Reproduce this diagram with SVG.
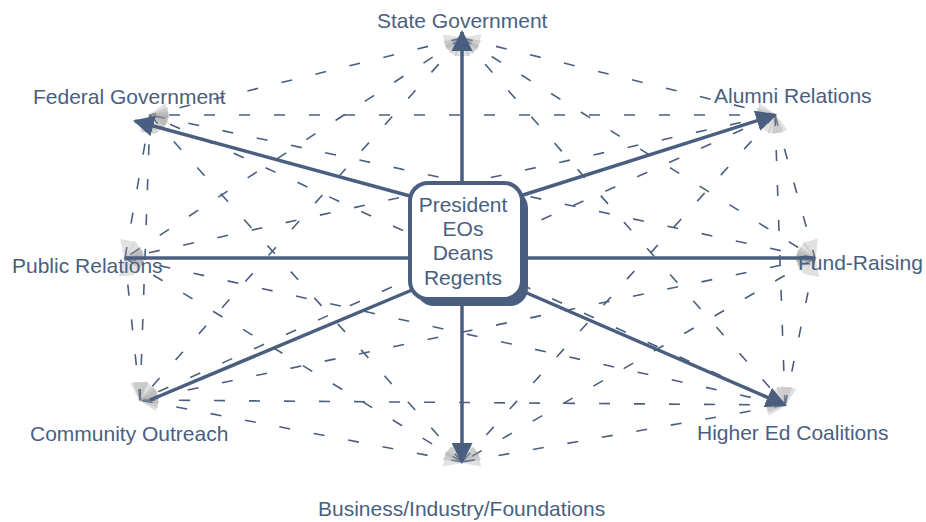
<svg xmlns="http://www.w3.org/2000/svg" width="926" height="522" viewBox="0 0 926 522">
<style>
.lbl{font-family:"Liberation Sans",Arial,sans-serif;font-size:21px;fill:#4a5f80}
.ctr{font-family:"Liberation Sans",Arial,sans-serif;font-size:21px;fill:#4a5f80;text-anchor:middle}
.main{stroke:#4a5f80;stroke-width:3.5;fill:none}
.dash{stroke:#4a5f80;stroke-width:1.6;fill:none;stroke-dasharray:11 24;marker-start:url(#g);marker-end:url(#g)}
</style>
<defs>
<marker id="a" viewBox="0 0 10 10" refX="9" refY="5" markerWidth="6" markerHeight="6" orient="auto-start-reverse" markerUnits="strokeWidth">
<path d="M0,0 L10,5 L0,10 Z" fill="#4a5f80"/>
</marker>
<marker id="g" viewBox="0 0 10 10" refX="9" refY="5" markerWidth="20" markerHeight="20" orient="auto-start-reverse" markerUnits="userSpaceOnUse">
<path d="M0,1 L10,5 L0,9 Z" fill="#9a9a9a" fill-opacity="0.3"/>
</marker>
</defs>
<rect width="926" height="522" fill="#ffffff"/>
<g id="connectors">
<g id="dashed">
<line class="dash" x1="462" y1="38" x2="775" y2="115"/>
<line class="dash" x1="462" y1="38" x2="815" y2="258"/>
<line class="dash" x1="462" y1="38" x2="785" y2="405"/>
<line class="dash" x1="462" y1="38" x2="462" y2="462"/>
<line class="dash" x1="462" y1="38" x2="140" y2="400"/>
<line class="dash" x1="462" y1="38" x2="125" y2="258"/>
<line class="dash" x1="462" y1="38" x2="150" y2="115"/>
<line class="dash" x1="775" y1="115" x2="815" y2="258"/>
<line class="dash" x1="775" y1="115" x2="785" y2="405"/>
<line class="dash" x1="775" y1="115" x2="462" y2="462"/>
<line class="dash" x1="775" y1="115" x2="140" y2="400"/>
<line class="dash" x1="775" y1="115" x2="125" y2="258"/>
<line class="dash" x1="775" y1="115" x2="150" y2="115"/>
<line class="dash" x1="815" y1="258" x2="785" y2="405"/>
<line class="dash" x1="815" y1="258" x2="462" y2="462"/>
<line class="dash" x1="815" y1="258" x2="140" y2="400"/>
<line class="dash" x1="815" y1="258" x2="125" y2="258"/>
<line class="dash" x1="815" y1="258" x2="150" y2="115"/>
<line class="dash" x1="785" y1="405" x2="462" y2="462"/>
<line class="dash" x1="785" y1="405" x2="140" y2="400"/>
<line class="dash" x1="785" y1="405" x2="125" y2="258"/>
<line class="dash" x1="785" y1="405" x2="150" y2="115"/>
<line class="dash" x1="462" y1="462" x2="140" y2="400"/>
<line class="dash" x1="462" y1="462" x2="125" y2="258"/>
<line class="dash" x1="462" y1="462" x2="150" y2="115"/>
<line class="dash" x1="140" y1="400" x2="125" y2="258"/>
<line class="dash" x1="140" y1="400" x2="150" y2="115"/>
<line class="dash" x1="125" y1="258" x2="150" y2="115"/>
</g>
<g id="main">
<line class="main" x1="462" y1="185" x2="462" y2="32" marker-end="url(#a)"/>
<line class="main" x1="462" y1="300" x2="462" y2="462" marker-end="url(#a)"/>
<line class="main" x1="410" y1="258" x2="125" y2="258"/>
<line class="main" x1="522" y1="258" x2="815" y2="258"/>
<line class="main" x1="410" y1="196" x2="135" y2="121" marker-end="url(#a)"/>
<line class="main" x1="520" y1="196" x2="775" y2="115" marker-end="url(#a)"/>
<line class="main" x1="412" y1="290" x2="150" y2="400"/>
<line class="main" x1="520" y1="290" x2="785" y2="405" marker-end="url(#a)"/>
</g>
</g>
<g id="center">
<rect x="416" y="190" width="112" height="116" rx="18" fill="#4a5f80"/>
<rect x="410" y="183" width="112" height="116" rx="18" fill="#ffffff" stroke="#4a5f80" stroke-width="4"/>
<text class="ctr" x="463" y="212">President</text>
<text class="ctr" x="463" y="236">EOs</text>
<text class="ctr" x="463" y="260">Deans</text>
<text class="ctr" x="463" y="285">Regents</text>
</g>
<g id="state"><text class="lbl" x="377" y="28">State Government</text></g>
<g id="alumni"><text class="lbl" x="714" y="103">Alumni Relations</text></g>
<g id="fund"><text class="lbl" x="798" y="270">Fund-Raising</text></g>
<g id="higher"><text class="lbl" x="697" y="440">Higher Ed Coalitions</text></g>
<g id="business"><text class="lbl" x="318" y="516">Business/Industry/Foundations</text></g>
<g id="community"><text class="lbl" x="30" y="441">Community Outreach</text></g>
<g id="public"><text class="lbl" x="12" y="273">Public Relations</text></g>
<g id="federal"><text class="lbl" x="33" y="104">Federal Government</text></g>
</svg>
